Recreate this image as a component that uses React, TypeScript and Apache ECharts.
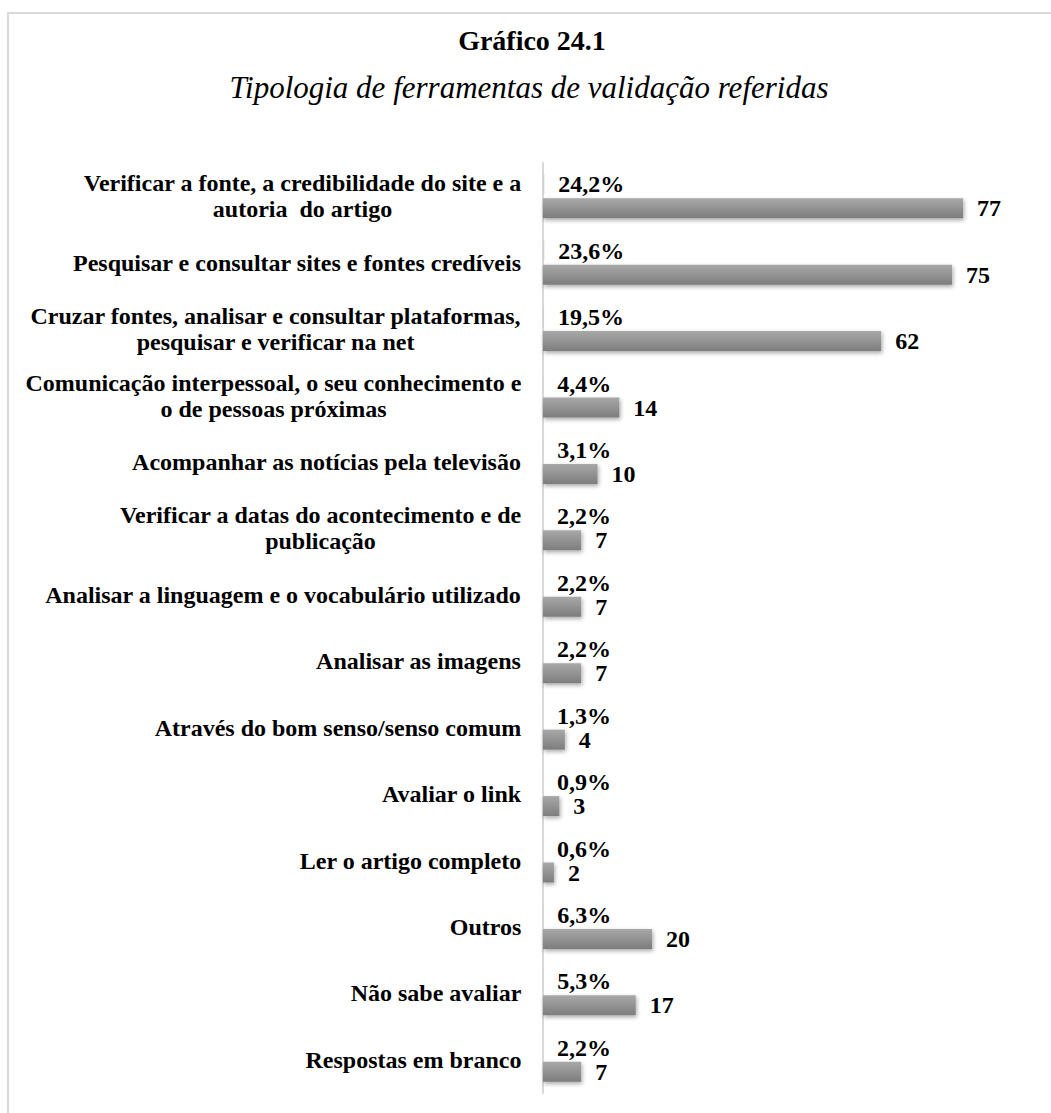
import React, { useEffect, useRef } from "react";
import * as echarts from "echarts";

const categories: string[] = [
  "Verificar a fonte, a credibilidade do site e a\nautoria  do artigo",
  "Pesquisar e consultar sites e fontes credíveis",
  "Cruzar fontes, analisar e consultar plataformas,\npesquisar e verificar na net",
  "Comunicação interpessoal, o seu conhecimento e\no de pessoas próximas",
  "Acompanhar as notícias pela televisão",
  "Verificar a datas do acontecimento e de\npublicação",
  "Analisar a linguagem e o vocabulário utilizado",
  "Analisar as imagens",
  "Através do bom senso/senso comum",
  "Avaliar o link",
  "Ler o artigo completo",
  "Outros",
  "Não sabe avaliar",
  "Respostas em branco",
];

const counts: number[] = [77, 75, 62, 14, 10, 7, 7, 7, 4, 3, 2, 20, 17, 7];
const shares: number[] = [0.242, 0.236, 0.195, 0.044, 0.031, 0.022, 0.022, 0.022, 0.013, 0.009, 0.006, 0.063, 0.053, 0.022];

const titleText = "Gráfico 24.1";
const subtitleText = "Tipologia de ferramentas de validação referidas";

const FONT = "'Liberation Serif', 'Times New Roman', serif";
const CAT_SIZE = 24;
const LABEL_SIZE = 24;

function measure(text: string, size: number): number {
  const c = document.createElement("canvas");
  const ctx = c.getContext("2d");
  if (!ctx) return text.length * size * 0.5;
  ctx.font = `bold ${size}px ${FONT}`;
  return ctx.measureText(text).width;
}

export default function App() {
  const ref = useRef<HTMLDivElement>(null);
  useEffect(() => {
    document.body.style.margin = "0";
    if (!ref.current) return;
    const chart = echarts.init(ref.current, null, { renderer: "svg" });

    const rich: Record<string, any> = {};
    categories.forEach((c, i) => {
      const w = Math.max(...c.split("\n").map((l) => measure(l, CAT_SIZE)));
      rich["c" + i] = {
        width: Math.ceil(w) + 1,
        align: "center",
        fontFamily: FONT,
        fontWeight: "bold",
        fontSize: CAT_SIZE,
        color: "#000",
        lineHeight: 26,
      };
    });

    const gridLeft = 543;
    const unit = 420 / 77;
    const xMax = 80;

    chart.setOption({
      animation: false,
      backgroundColor: "#fff",
      title: [
        {
          text: titleText,
          left: 527,
          top: 21,
          textAlign: "center",
          textStyle: { fontFamily: FONT, fontWeight: "bold", fontSize: 28, color: "#000" },
        },
        {
          text: subtitleText,
          left: 524,
          top: 67,
          textAlign: "center",
          textStyle: { fontFamily: FONT, fontStyle: "italic", fontWeight: "normal", fontSize: 31, color: "#000" },
        },
      ],
      graphic: [
        {
          type: "polyline",
          shape: { points: [[8, 1113], [8, 13], [1051, 13]] },
          style: { stroke: "#d9d9d9", lineWidth: 2, fill: "none" },
        },
      ],
      grid: {
        left: gridLeft,
        top: 163,
        width: unit * xMax,
        height: 930,
      },
      xAxis: {
        type: "value",
        min: 0,
        max: xMax,
        show: false,
      },
      yAxis: {
        type: "category",
        inverse: true,
        data: categories,
        axisLine: { show: true, lineStyle: { color: "#d9d9d9", width: 2 } },
        axisTick: { show: false },
        axisLabel: {
          margin: 21,
          formatter: (v: string) => {
            const i = categories.indexOf(v);
            return v
              .split("\n")
              .map((l) => `{c${i}|${l}}`)
              .join("\n");
          },
          rich,
        },
      },
      series: [
        {
          name: "Percentagem",
          type: "bar",
          data: shares,
          barWidth: 20,
          barGap: "20%",
          itemStyle: { color: "#cfcfcf" },
          label: {
            show: true,
            position: "right",
            distance: 14,
            formatter: (p: any) => (p.value * 100).toFixed(1).replace(".", ",") + "%",
            fontFamily: FONT,
            fontWeight: "bold",
            fontSize: LABEL_SIZE,
            color: "#000",
          },
        },
        {
          name: "N",
          type: "bar",
          data: counts,
          barWidth: 20,
          itemStyle: {
            color: new echarts.graphic.LinearGradient(0, 0, 0, 1, [
              { offset: 0, color: "#a8a8a8" },
              { offset: 1, color: "#7d7d7d" },
            ]),
            shadowColor: "rgba(0,0,0,0.35)",
            shadowBlur: 4,
            shadowOffsetY: 2,
            shadowOffsetX: 1,
          },
          label: {
            show: true,
            position: "right",
            distance: 14,
            fontFamily: FONT,
            fontWeight: "bold",
            fontSize: LABEL_SIZE,
            color: "#000",
          },
        },
      ],
    });
    return () => chart.dispose();
  }, []);
  return <div ref={ref} style={{ width: 1051, height: 1113 }} />;
}
